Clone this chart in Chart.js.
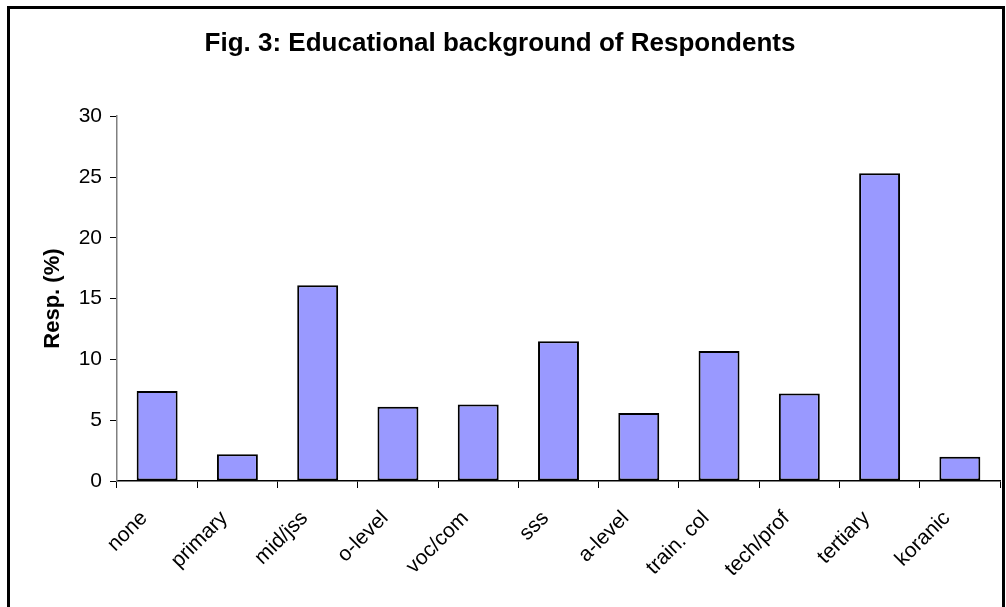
<!DOCTYPE html>
<html>
<head>
<meta charset="utf-8">
<script src="https://cdn.jsdelivr.net/npm/chart.js@4.4.1/dist/chart.umd.min.js"></script>
<style>
  html, body { margin: 0; padding: 0; background: #ffffff; }
  #wrap { position: relative; width: 1006px; height: 607px; overflow: hidden; }
  #frame { position: absolute; left: 7px; top: 6px; width: 998px; height: 620px; border: 3px solid #000; box-sizing: border-box; pointer-events: none; }
  canvas { position: absolute; left: 0; top: 0; }
</style>
</head>
<body>
<div id="wrap">
  <canvas id="c" width="1006" height="607"></canvas>
  <div id="frame"></div>
</div>
<script>
const categories = ["none", "primary", "mid/jss", "o-level", "voc/com", "sss", "a-level", "train. col", "tech/prof", "tertiary", "koranic"];
const respPercent = [7.4, 2.2, 16.1, 6.1, 6.3, 11.5, 5.6, 10.7, 7.2, 25.3, 2.0];
const yTicks = [0, 5, 10, 15, 20, 25, 30];
const chartTitle = "Fig. 3: Educational background of Respondents";
const yTitle = "Resp. (%)";

const FONT = "'Liberation Sans', Arial, Helvetica, sans-serif";

new Chart(document.getElementById('c'), {
  type: 'bar',
  data: {
    labels: categories,
    datasets: [{
      data: respPercent,
      backgroundColor: '#9999ff',
      borderColor: '#000000',
      borderWidth: 2,
      borderSkipped: false,
      barPercentage: 0.51,
      categoryPercentage: 1.0
    }]
  },
  options: {
    responsive: false,
    devicePixelRatio: 1,
    animation: false,
    events: [],
    layout: { padding: { left: 0, right: 6, top: 0, bottom: 6 } },
    plugins: {
      legend: { display: false },
      tooltip: { enabled: false },
      title: {
        display: true,
        text: chartTitle,
        color: '#000',
        font: { family: FONT, size: 26, weight: 'bold' },
        padding: { top: 28, bottom: 57 }
      }
    },
    scales: {
      x: {
        offset: true,
        grid: { display: true, offset: true, drawOnChartArea: false, drawTicks: true, tickLength: 7, color: '#000', lineWidth: 1 },
        border: { display: true, color: '#000', width: 1.5 },
        ticks: { color: '#000', font: { family: FONT, size: 21 }, minRotation: 45, maxRotation: 45, autoSkip: false, padding: 18, labelOffset: -13 },
        afterFit: (s) => { s.height = 120; }
      },
      y: {
        min: 0,
        max: 30,
        afterBuildTicks: (s) => { s.ticks = yTicks.map(v => ({ value: v })); },
        grid: { display: true, drawOnChartArea: false, drawTicks: true, tickLength: 7, color: '#000', lineWidth: 1 },
        border: { display: true, color: '#808080', width: 1.5 },
        ticks: { color: '#000', font: { family: FONT, size: 21 }, padding: 8 },
        title: { display: true, text: yTitle, color: '#000', font: { family: FONT, size: 22, weight: 'bold' }, padding: { top: 40, bottom: 0 } },
        afterFit: (s) => { s.width = 117; }
      }
    }
  }
});
</script>
</body>
</html>
